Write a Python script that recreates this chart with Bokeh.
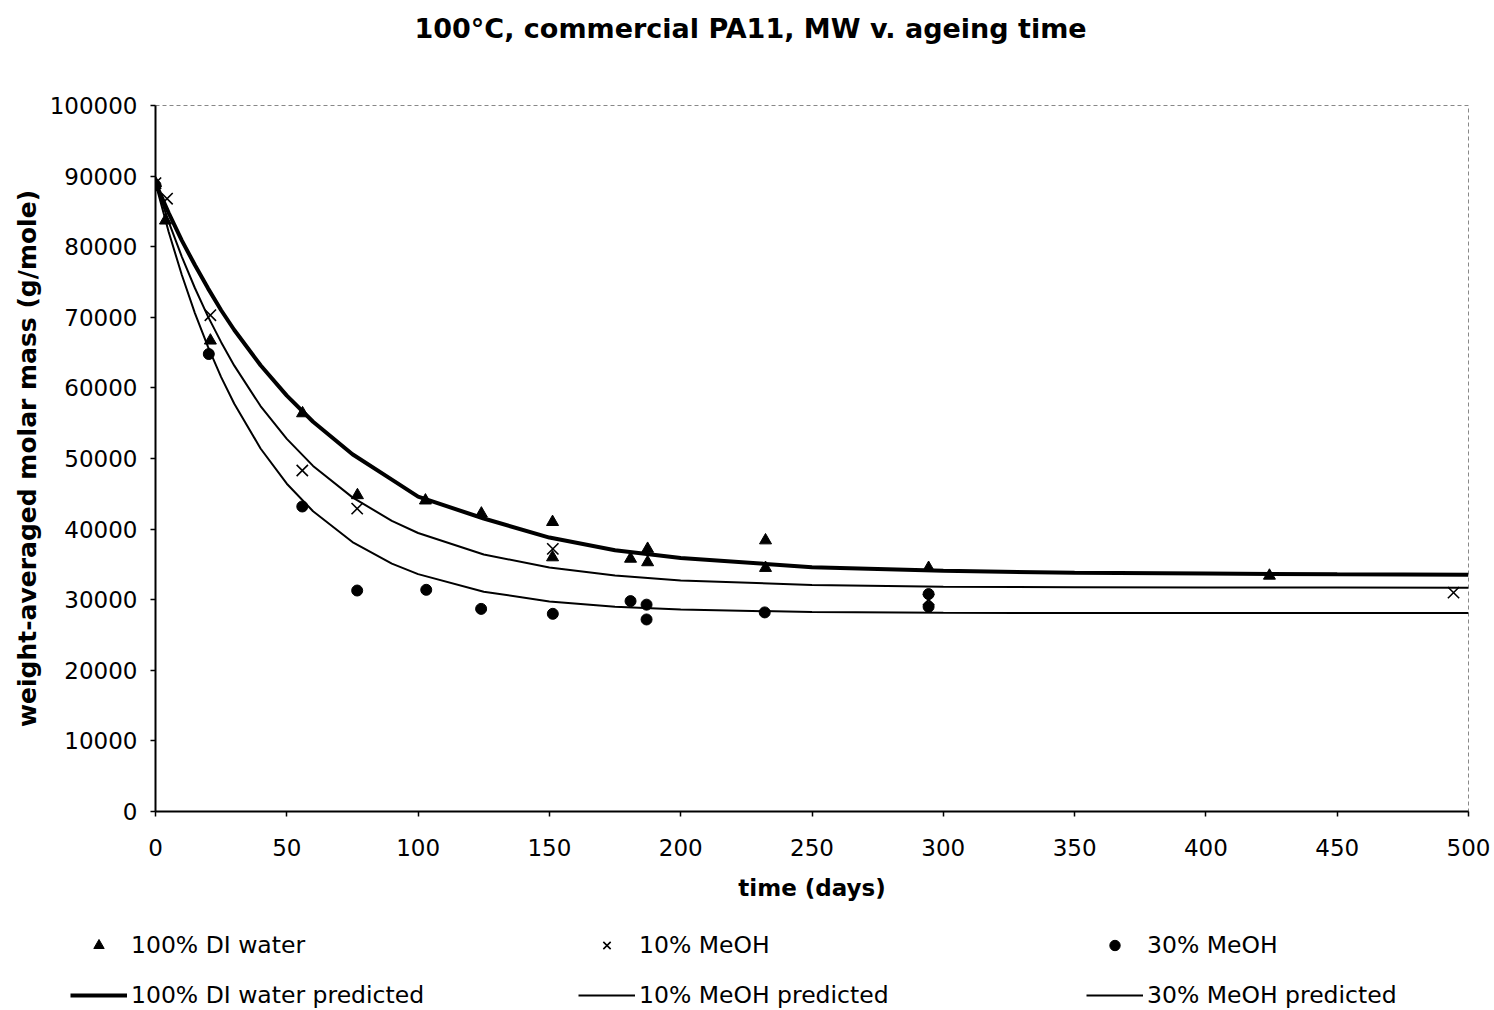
from bokeh.plotting import figure
from bokeh.models import Range1d, FixedTicker, BasicTickFormatter, Legend, LegendItem, Title
from bokeh.embed import file_html
from bokeh.resources import INLINE

# ---- measured data (days, g/mole) ----
days_di = [0, 3.8, 20.9, 56, 76.9, 102.8, 124.1, 151.2, 151.2, 180.9, 187.4, 187.4, 232.3, 232.3, 294.4, 424.2]
mw_di = [89000, 83700, 66700, 56400, 44800, 44050, 42200, 41000, 36000, 35800, 37200, 35300, 38400, 34500, 34500, 33400]

days_m10 = [0, 4.4, 20.9, 55.9, 76.8, 151.3, 294.4, 494.3]
mw_m10 = [89000, 86800, 70300, 48300, 42900, 37200, 30000, 31000]

days_m30 = [0, 20.3, 55.9, 76.8, 103.1, 124.0, 151.3, 180.9, 187.0, 187.0, 232.0, 294.4, 294.4]
mw_m30 = [88700, 64800, 43200, 31300, 31400, 28700, 28000, 29800, 29300, 27200, 28200, 30800, 29000]

# ---- predicted curves ----
pred_days = [0, 5, 10, 15, 20, 25, 30, 40, 50, 60, 75, 90, 100, 125, 150, 175, 200, 250, 300, 350, 400, 450, 500]
pred_di = [89000, 84800, 80900, 77400, 74100, 71000, 68200, 63200, 58900, 55200, 50600, 47000, 44600,
           41500, 38800, 37000, 35900, 34600, 34100, 33800, 33700, 33600, 33550]
pred_m10 = [89000, 83550, 78600, 74150, 70100, 66480, 63150, 57430, 52780, 48950, 44490, 41170, 39450,
            36400, 34550, 33420, 32730, 32080, 31840, 31760, 31730, 31720, 31700]
pred_m30 = [89000, 82120, 76020, 70600, 65800, 61530, 57760, 51420, 46430, 42530, 38170, 35100, 33620,
            31130, 29760, 29010, 28600, 28250, 28150, 28120, 28110, 28100, 28100]

x_ticks = list(range(0, 501, 50))
y_ticks = list(range(0, 100001, 10000))

title_text = "100°C, commercial PA11, MW v. ageing time"
x_label = "time (days)"
y_label = "weight-averaged molar mass (g/mole)"
labels = ["100% DI water", "10% MeOH", "30% MeOH",
          "100% DI water predicted", "10% MeOH predicted", "30% MeOH predicted"]

FONT = "DejaVu Sans"
W = 1494


def draw_series(fig):
    """Draw the three predicted curves and three measured series on fig."""
    l_di = fig.line(pred_days, pred_di, line_color="black", line_width=4)
    l_m10 = fig.line(pred_days, pred_m10, line_color="black", line_width=2)
    l_m30 = fig.line(pred_days, pred_m30, line_color="black", line_width=2)
    s_di = fig.scatter(days_di, mw_di, marker="triangle", size=12, fill_color="black", line_color="black")
    s_m10 = fig.scatter(days_m10, mw_m10, marker="x", size=16, line_color="black", line_width=1.6)
    s_m30 = fig.scatter(days_m30, mw_m30, marker="circle", size=11, fill_color="black", line_color="black")
    return [s_di, s_m10, s_m30, l_di, l_m10, l_m30]


# ---------------- main chart ----------------
p = figure(width=W, height=920, x_range=Range1d(0, 500), y_range=Range1d(0, 100000),
           output_backend="svg", toolbar_location=None,
           min_border_left=155, min_border_right=26, min_border_top=105, min_border_bottom=109,
           background_fill_color="white", border_fill_color="white")
p.grid.visible = False
p.outline_line_color = "#888888"
p.outline_line_dash = "4 3"
p.outline_line_width = 1

for ax in (p.xaxis, p.yaxis):
    ax.axis_line_width = 2
    ax.axis_line_color = "black"
    ax.major_tick_out = 5
    ax.major_tick_in = 0
    ax.major_tick_line_width = 1.5
    ax.minor_tick_line_color = None
    ax.major_label_text_font = FONT
    ax.major_label_text_font_size = "23px"
    ax.major_label_text_color = "black"
    ax.axis_label_text_font = FONT
    ax.axis_label_text_font_style = "bold"
    ax.axis_label_text_color = "black"
    ax.formatter = BasicTickFormatter(use_scientific=False)

p.xaxis.axis_label_text_font_size = "23px"
p.yaxis.axis_label_text_font_size = "25px"
p.xaxis.ticker = FixedTicker(ticks=x_ticks)
p.yaxis.ticker = FixedTicker(ticks=y_ticks)
p.xaxis.axis_label = x_label
p.yaxis.axis_label = y_label
p.xaxis.major_label_standoff = 22
p.xaxis.axis_label_standoff = 16
p.yaxis.major_label_standoff = 13
p.yaxis.axis_label_standoff = 5

draw_series(p)

# title: spacer panel next to the frame, then the real title further out
p.add_layout(Title(text=" ", text_font_size="1px", standoff=53), "above")
p.add_layout(Title(text=title_text, text_font=FONT, text_font_size="27px", text_font_style="bold",
                   align="left", offset=259, vertical_align="middle", standoff=10,
                   text_color="black"), "above")

# ---------------- legend strip (same series, window kept off the data) ----------------
g = figure(width=W, height=90, x_range=Range1d(-2000, -1000), y_range=Range1d(-2000, -1000),
           output_backend="svg", toolbar_location=None, x_axis_type=None, y_axis_type=None,
           title_location=None,
           min_border=0, min_border_left=0, min_border_right=0, min_border_top=0, min_border_bottom=0,
           outline_line_color=None, background_fill_color="white", border_fill_color="white")
g.grid.visible = False
proxies = draw_series(g)

legend = Legend(
    items=[LegendItem(label=lab, renderers=[r]) for lab, r in zip(labels, proxies)],
    location=(70, 1), orientation="horizontal", ncols=3, nrows=2,
    glyph_width=57, glyph_height=26, label_height=26, label_width=425,
    label_standoff=4, spacing=22, padding=0, margin=0,
    border_line_color=None, background_fill_alpha=0,
    label_text_font=FONT, label_text_font_size="23.5px", label_text_color="black")
g.add_layout(legend)

open("out.html", "w").write(file_html([p, g], INLINE))
